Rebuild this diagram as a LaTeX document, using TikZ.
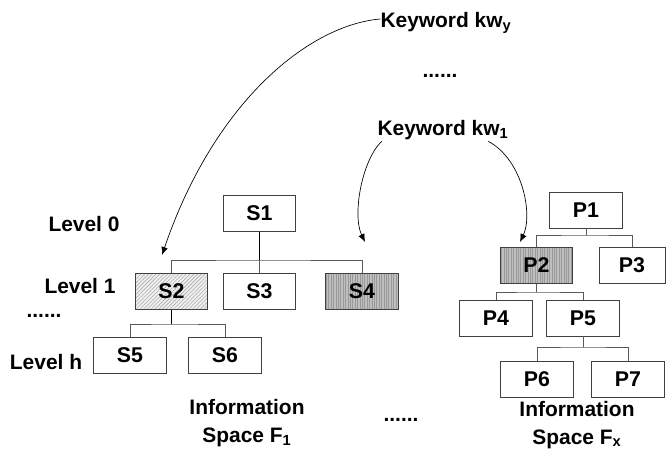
\documentclass[tikz,border=0pt]{standalone}
\usepackage{fontspec}
\setmainfont{Liberation Sans}
\usetikzlibrary{arrows.meta,patterns.meta}

\tikzset{
  lbl/.style={font=\fontsize{15.7}{20.5}\selectfont\bfseries, inner sep=0pt, align=center},
  tnode/.style={draw=black!75, line width=0.6pt, minimum width=54.5pt, minimum height=27pt,
                inner sep=0pt, font=\fontsize{16}{18}\selectfont\bfseries},
  diaghatch/.style={preaction={fill=gray!12},
                    pattern={Lines[angle=45,distance=2pt,line width=0.45pt]}, pattern color=gray!65},
  verthatch/.style={preaction={fill=gray!50},
                    pattern={Lines[angle=90,distance=1.8pt,line width=0.5pt]}, pattern color=gray!80},
  bus/.style={draw=black!65, line width=0.6pt},
  stub/.style={draw=black, line width=1.1pt},
  link/.style={draw=black, line width=0.5pt, -{Latex[length=6pt,width=5pt]}}
}

\begin{document}
\begin{tikzpicture}[x=0.75pt,y=-0.75pt]
\useasboundingbox (0,0) rectangle (667,449);

% keywords
\node[lbl] (kwy) at (446,23) {Keyword kw\textsubscript{y}};
\node[lbl] (kwdots) at (440,76) {......};
\node[lbl] (kw1) at (443,130) {Keyword kw\textsubscript{1}};

% level labels
\node[lbl] (lv0) at (84,224) {Level 0};
\node[lbl] (lv1) at (80,286) {Level 1};
\node[lbl] (lvdots) at (44,316) {......};
\node[lbl] (lvh) at (46,362) {Level h};

% information space F1
\node[tnode] (S1) at (259.5,213.5) {S1};
\node[tnode, diaghatch] (S2) at (171.5,291.5) {S2};
\node[tnode] (S3) at (259.5,291.5) {S3};
\node[tnode, verthatch] (S4) at (362,291.5) {S4};
\node[tnode] (S5) at (130,355) {S5};
\node[tnode] (S6) at (225,355) {S6};

\coordinate (sb1) at (259.5,260);
\coordinate (sb2) at (171.5,324);
\draw[stub] (S1.south) -- (sb1);
\draw[bus] (S2.north) |- (sb1) -| (S4.north);
\draw[bus] (S3.north) -- (sb1);
\draw[stub] (S2.south) -- (sb2);
\draw[bus] (S5.north) |- (sb2) -| (S6.north);

\node[lbl] (F1) at (247,423) {Information\\Space F\textsubscript{1}};

% information space Fx
\node[tnode] (P1) at (586,210) {P1};
\node[tnode, verthatch] (P2) at (536.5,265.5) {P2};
\node[tnode, minimum width=49.5pt] (P3) at (632,265.5) {P3};
\node[tnode] (P4) at (496,318) {P4};
\node[tnode] (P5) at (583,318) {P5};
\node[tnode] (P6) at (537,379) {P6};
\node[tnode] (P7) at (628,379) {P7};

\coordinate (pb1) at (586,235);
\coordinate (pb2) at (536.5,292);
\coordinate (pb5) at (583,347);
\draw[bus] (P1.south) -- (pb1);
\draw[bus] (P2.north) |- (pb1) -| (P3.north);
\draw[bus] (P2.south) -- (pb2);
\draw[bus] (P4.north) |- (pb2) -| (P5.north);
\draw[bus] (P5.south) -- (pb5);
\draw[bus] (P6.north) |- (pb5) -| (P7.north);

\node[lbl] (Fx) at (577,425) {Information\\Space F\textsubscript{x}};
\node[lbl] (spdots) at (401,420) {......};

% keyword links
\coordinate (ty) at (162,255);
\coordinate (t1a) at (365,242);
\coordinate (t1b) at (520,242);
\draw[link] ([yshift=3pt]kwy.west) .. controls (310,25) and (215,100) .. (ty);
\draw[link] ([xshift=-46pt,yshift=-1pt]kw1.south) .. controls (362,160) and (352,215) .. (t1a);
\draw[link] ([xshift=34pt,yshift=-1pt]kw1.south) .. controls (523,160) and (533,215) .. (t1b);
\end{tikzpicture}
\end{document}
